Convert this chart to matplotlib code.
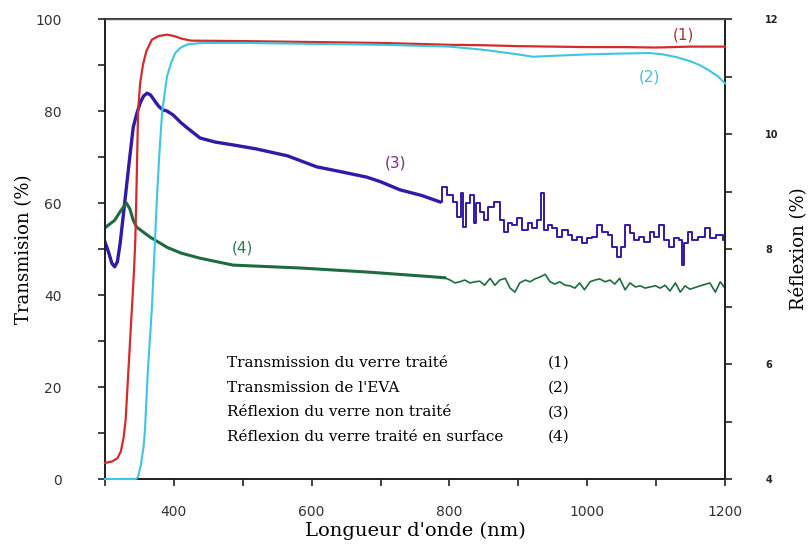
import matplotlib
matplotlib.use("Agg")
import matplotlib.pyplot as plt
from matplotlib.ticker import MultipleLocator

# (1) transmission du verre traité (%)
wl_1 = [300, 310, 318, 323, 327, 330, 333, 336, 339, 342, 344, 346, 348, 351, 355, 360, 368, 378, 390, 400,
        412, 425, 500, 550, 600, 650, 700, 750, 800, 850, 900, 950, 1000, 1050, 1100, 1150, 1200]
trans_1 = [3.5, 3.8, 4.5, 6, 9, 13, 21, 29, 37, 45, 52, 65, 80, 86, 90, 93, 95.5, 96.3, 96.6, 96.3,
           95.7, 95.3, 95.2, 95.1, 95.0, 94.9, 94.8, 94.6, 94.4, 94.3, 94.1, 94.0, 93.9, 93.9, 93.8, 94.0, 94.0]

# (2) transmission de l'EVA (%)
wl_2 = [300, 345, 348, 352, 356, 358, 362, 368, 372, 375, 379, 383, 390, 396, 402, 410, 420, 440, 500, 600,
        700, 800, 850, 900, 921, 950, 1000, 1050, 1091, 1110, 1130, 1150, 1163, 1175, 1190, 1200]
trans_2 = [0, 0, 0.5, 3, 7, 10.6, 23, 37, 50, 60, 71, 80, 87.5, 90.5, 92.6, 93.8, 94.5, 94.8, 94.8, 94.6,
           94.4, 94.0, 93.3, 92.3, 91.8, 92.0, 92.3, 92.5, 92.6, 92.3, 91.7, 90.8, 90.0, 89.0, 87.5, 86.0]

# (3) réflexion du verre non traité (%)
wl_3 = [300, 305, 310, 314, 318, 322, 329, 335, 341, 346, 351, 356, 361, 366, 372, 378, 384, 390, 399, 410,
        420, 438, 460, 486, 520, 565, 607, 640, 680, 700, 728, 760, 786]
refl_3 = [8.12, 7.95, 7.75, 7.69, 7.78, 8.1, 8.85, 9.5, 10.12, 10.35, 10.54, 10.66, 10.71, 10.68, 10.58, 10.48,
          10.42, 10.40, 10.33, 10.2, 10.1, 9.93, 9.86, 9.81, 9.74, 9.62, 9.43, 9.35, 9.25, 9.17, 9.03, 8.93, 8.82]
wl_3b = [786, 793, 801, 808, 815, 818, 822, 827, 833, 837, 841, 847, 853, 859, 870, 876, 881, 888, 895, 902,
         910, 917, 924, 931, 936, 939, 946, 953, 960, 968, 975, 982, 989, 996, 1004, 1011, 1018, 1026, 1033,
         1040, 1047, 1052, 1059, 1065, 1072, 1079, 1087, 1094, 1101, 1108, 1115, 1123, 1130, 1135, 1139, 1143,
         1149, 1156, 1166, 1175, 1181, 1193, 1200]
refl_3b = [8.82, 9.08, 8.94, 8.82, 8.56, 8.97, 8.38, 8.80, 8.94, 8.45, 8.80, 8.64, 8.50, 8.73, 8.82, 8.50,
           8.30, 8.45, 8.42, 8.54, 8.33, 8.45, 8.36, 8.50, 8.97, 8.33, 8.42, 8.36, 8.21, 8.33, 8.24, 8.16,
           8.21, 8.10, 8.19, 8.21, 8.42, 8.30, 8.24, 8.03, 7.86, 8.03, 8.42, 8.28, 8.16, 8.21, 8.12, 8.30,
           8.21, 8.42, 8.16, 8.03, 8.20, 8.16, 7.72, 8.10, 8.30, 8.16, 8.21, 8.36, 8.19, 8.24, 8.16]

# (4) réflexion du verre traité en surface (%)
wl_4 = [300, 314, 322, 331, 336, 341, 346, 355, 365, 390, 410, 438, 486, 583, 680, 772, 793]
refl_4 = [8.37, 8.5, 8.65, 8.8, 8.7, 8.5, 8.38, 8.3, 8.21, 8.03, 7.93, 7.84, 7.72, 7.67, 7.60, 7.52, 7.50]
wl_4b = [793, 801, 808, 815, 822, 830, 837, 844, 851, 859, 866, 873, 881, 888, 895, 902, 910, 917, 924, 931,
         939, 946, 953, 960, 968, 975, 982, 989, 996, 1004, 1011, 1018, 1026, 1033, 1040, 1047, 1055, 1062,
         1070, 1077, 1084, 1091, 1099, 1106, 1113, 1120, 1128, 1135, 1142, 1149, 1164, 1178, 1186, 1193, 1200]
refl_4b = [7.50, 7.46, 7.41, 7.43, 7.46, 7.41, 7.43, 7.44, 7.37, 7.49, 7.37, 7.46, 7.49, 7.32, 7.25, 7.41,
           7.46, 7.43, 7.48, 7.51, 7.56, 7.43, 7.39, 7.43, 7.37, 7.36, 7.32, 7.41, 7.29, 7.43, 7.46, 7.48,
           7.43, 7.46, 7.39, 7.49, 7.29, 7.41, 7.34, 7.36, 7.32, 7.34, 7.36, 7.32, 7.37, 7.27, 7.41, 7.25,
           7.36, 7.30, 7.36, 7.41, 7.25, 7.43, 7.32]

legende = ["Transmission du verre traité", "Transmission de l'EVA",
           "Réflexion du verre non traité", "Réflexion du verre traité en surface"]
numeros = ["(1)", "(2)", "(3)", "(4)"]

rouge = "#d42a2a"
cyan = "#3cc6e2"
bleu = "#3418a8"
vert = "#1f6b40"

fig = plt.figure(figsize=(8.09, 5.48), dpi=100)
ax = fig.add_axes([0.1298, 0.1259, 0.7664, 0.8394])
ax2 = ax.twinx()

ax.plot(wl_1, trans_1, color=rouge, lw=1.6, clip_on=False, zorder=5)
ax.plot(wl_2, trans_2, color=cyan, lw=1.5, clip_on=False, zorder=6)
ax2.plot(wl_3, refl_3, color=bleu, lw=2.4)
ax2.plot(wl_3b, refl_3b, color=bleu, lw=1.4, drawstyle="steps-mid")
ax2.plot(wl_4, refl_4, color=vert, lw=2.2)
ax2.plot(wl_4b, refl_4b, color=vert, lw=1.2)

ax.set_xlim(300, 1200)
ax.set_ylim(0, 100)
ax2.set_ylim(4, 12)
ax.set_zorder(ax2.get_zorder() + 1)
ax.patch.set_visible(False)

ax.xaxis.set_major_locator(MultipleLocator(200))
ax.xaxis.set_minor_locator(MultipleLocator(100))
ax.yaxis.set_major_locator(MultipleLocator(20))
ax.yaxis.set_minor_locator(MultipleLocator(10))
ax2.yaxis.set_major_locator(MultipleLocator(2))
ax2.yaxis.set_minor_locator(MultipleLocator(1))

for a in (ax, ax2):
    for s in a.spines.values():
        s.set_linewidth(1.3)
        s.set_color("#222222")
ax.spines["top"].set_color("#555555")
ax.spines["top"].set_linewidth(1.0)

ax.tick_params(axis="both", which="both", direction="out", length=5, width=1.2, colors="#222222")
ax.tick_params(axis="y", which="major", pad=26, labelsize=10, labelcolor="#333333")
ax.tick_params(axis="x", which="major", pad=14, labelsize=10, labelcolor="#333333")
ax2.tick_params(axis="y", which="both", direction="out", length=5, width=1.2, colors="#222222")
ax2.tick_params(axis="y", which="major", pad=24, labelsize=7)
for t in ax2.get_yticklabels():
    t.set_fontweight("bold")

ax.set_xlabel("Longueur d'onde (nm)", family="DejaVu Serif", fontsize=14, labelpad=2)
ax.set_ylabel("Transmision (%)", family="DejaVu Serif", fontsize=13, labelpad=2)
ax2.set_ylabel("Réflexion (%)", family="DejaVu Serif", fontsize=13, labelpad=8)

for i in range(4):
    ax.text(477, 25.2 - i * 5.35, legende[i], family="DejaVu Serif", fontsize=11, va="center")
    ax.text(943, 25.2 - i * 5.35, numeros[i], family="DejaVu Serif", fontsize=11, va="center")

ax.text(1139, 96.5, "(1)", color="#a8303a", fontsize=11, ha="center", va="center")
ax.text(1091, 87.4, "(2)", color="#40c0d4", fontsize=11, ha="center", va="center")
ax.text(721, 68.7, "(3)", color="#7a2a8a", fontsize=11, ha="center", va="center")
ax.text(500, 50.2, "(4)", color="#2a7a50", fontsize=11, ha="center", va="center")

fig.savefig("out.png", dpi=100)
